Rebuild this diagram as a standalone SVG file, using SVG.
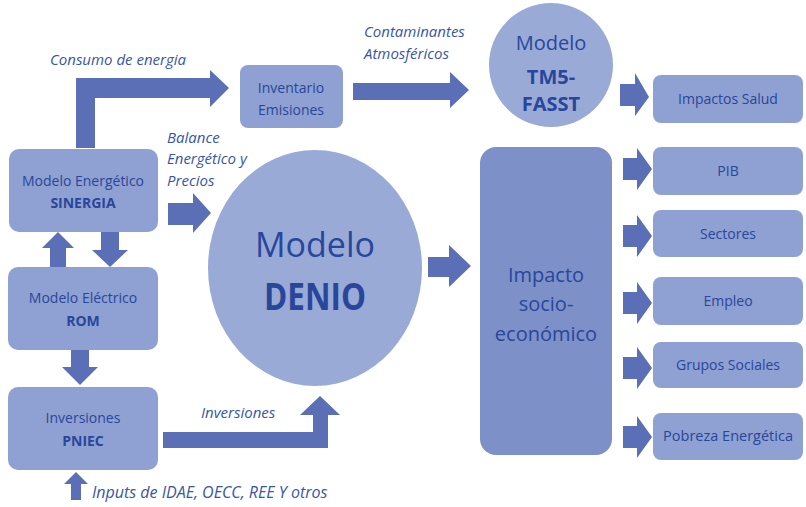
<svg xmlns="http://www.w3.org/2000/svg" width="806" height="507" viewBox="0 0 806 507">
<style>
.box{fill:#8fa0d3;}
.dark{fill:#7d90c8;}
.circ{fill:#9aaad7;}
.arr{fill:#5a6fb5;}
.t{font-family:"Open Sans","Liberation Sans",sans-serif;fill:#28479a;text-anchor:middle;font-size:14px;}
.b{font-weight:bold;}
.lbl{font-family:"Open Sans","Liberation Sans",sans-serif;fill:#3756a7;font-style:italic;font-size:15px;}
</style>
<rect width="806" height="507" fill="#ffffff"/>
<g id="connectors">
  <!-- Consumo de energia -->
  <path class="arr" d="M76,148 V78 H210 V70 L229,88 L210,107 V98 H95 V148 Z"/>
  <!-- Inventario -> TM5 -->
  <path class="arr" d="M353,83 H450 V72 L469,90 L450,108 V100 H353 Z"/>
  <!-- TM5 -> Impactos Salud -->
  <path class="arr" d="M620,84 H635 V73 L649,97 L635,116 V106 H620 Z"/>
  <!-- SINERGIA -> DENIO -->
  <path class="arr" d="M168,203 H193 V193 L211,213 L193,233 V225 H168 Z"/>
  <!-- SINERGIA <-> ROM -->
  <path class="arr" d="M50,267 V248 H42 L58,232 L74,248 H66 V267 Z"/>
  <path class="arr" d="M101,232 V250 H92 L110,267 L128,250 H119 V232 Z"/>
  <!-- ROM -> PNIEC -->
  <path class="arr" d="M71,350 V367 H62 L80,385 L98,367 H89 V350 Z"/>
  <!-- Inputs -->
  <path class="arr" d="M71,500 V484 H64 L76,472 L88,484 H81 V500 Z"/>
  <!-- Inversiones -->
  <path class="arr" d="M163,432 H313 V415 H300 L320,396 L340,415 H328 V448 H163 Z"/>
  <!-- DENIO -> Impacto -->
  <path class="arr" d="M428,257 H449 V245 L471,266 L449,287 V277 H428 Z"/>
  <!-- Impacto -> outputs -->
  <path class="arr" d="M623,158 H637 V148 L652,169 L637,190 V180 H623 Z"/>
  <path class="arr" d="M623,225 H637 V215 L652,236 L637,257 V247 H623 Z"/>
  <path class="arr" d="M623,292 H637 V282 L652,303 L637,324 V314 H623 Z"/>
  <path class="arr" d="M623,357 H637 V347 L652,368 L637,389 V379 H623 Z"/>
  <path class="arr" d="M623,426 H637 V416 L652,437 L637,458 V448 H623 Z"/>
</g>
<g id="label-consumo"><text class="lbl" x="50" y="65">Consumo de energia</text></g>
<g id="label-contaminantes"><text class="lbl" x="364" y="37">Contaminantes</text><text class="lbl" x="364" y="59">Atmosféricos</text></g>
<g id="label-balance"><text class="lbl" x="167" y="143">Balance</text><text class="lbl" x="167" y="164">Energético y</text><text class="lbl" x="167" y="186">Precios</text></g>
<g id="label-inversiones"><text class="lbl" x="201" y="418">Inversiones</text></g>
<g id="label-inputs"><text class="lbl" x="92" y="498" style="font-size:16px">Inputs de IDAE, OECC, REE Y otros</text></g>

<g id="sinergia"><rect class="box" x="9" y="149" width="149" height="83" rx="10"/><text class="t" x="83" y="186">Modelo Energético</text><text class="t b" x="83" y="208">SINERGIA</text></g>
<g id="rom"><rect class="box" x="8" y="267" width="150" height="83" rx="10"/><text class="t" x="83" y="303">Modelo Eléctrico</text><text class="t b" x="83" y="326">ROM</text></g>
<g id="pniec"><rect class="box" x="8" y="387" width="150" height="83" rx="10"/><text class="t" x="83" y="423">Inversiones</text><text class="t b" x="83" y="446">PNIEC</text></g>
<g id="inventario"><rect class="box" x="240" y="65" width="103" height="63" rx="8"/><text class="t" x="291" y="93">Inventario</text><text class="t" x="291" y="115">Emisiones</text></g>
<g id="tm5"><ellipse class="circ" cx="551" cy="65" rx="62" ry="62"/><text class="t" x="551" y="50" style="font-size:20px">Modelo</text><text class="t b" x="551" y="84" style="font-size:20px">TM5-</text><text class="t b" x="551" y="111" style="font-size:20px">FASST</text></g>
<g id="denio"><ellipse class="circ" cx="315" cy="268" rx="107" ry="118"/><text class="t" x="315" y="257" style="font-size:34px">Modelo</text><text class="t b" x="315" y="310" style="font-size:37px" textLength="102" lengthAdjust="spacingAndGlyphs">DENIO</text></g>
<g id="impacto"><rect class="dark" x="480" y="147" width="132" height="308" rx="16"/><text class="t" x="546" y="282" style="font-size:20px">Impacto</text><text class="t" x="546" y="311" style="font-size:20px">socio-</text><text class="t" x="546" y="341" style="font-size:20px">económico</text></g>
<g id="salud"><rect class="box" x="653" y="75" width="150" height="48" rx="8"/><text class="t" x="728" y="104">Impactos Salud</text></g>
<g id="pib"><rect class="box" x="653" y="147" width="150" height="48" rx="8"/><text class="t" x="728" y="176">PIB</text></g>
<g id="sectores"><rect class="box" x="653" y="210" width="150" height="47" rx="8"/><text class="t" x="728" y="239">Sectores</text></g>
<g id="empleo"><rect class="box" x="653" y="277" width="150" height="48" rx="8"/><text class="t" x="728" y="306">Empleo</text></g>
<g id="grupos"><rect class="box" x="653" y="342" width="150" height="46" rx="8"/><text class="t" x="728" y="370">Grupos Sociales</text></g>
<g id="pobreza"><rect class="box" x="653" y="413" width="150" height="47" rx="8"/><text class="t" x="728" y="441" style="font-size:14.5px">Pobreza Energética</text></g>
</svg>
